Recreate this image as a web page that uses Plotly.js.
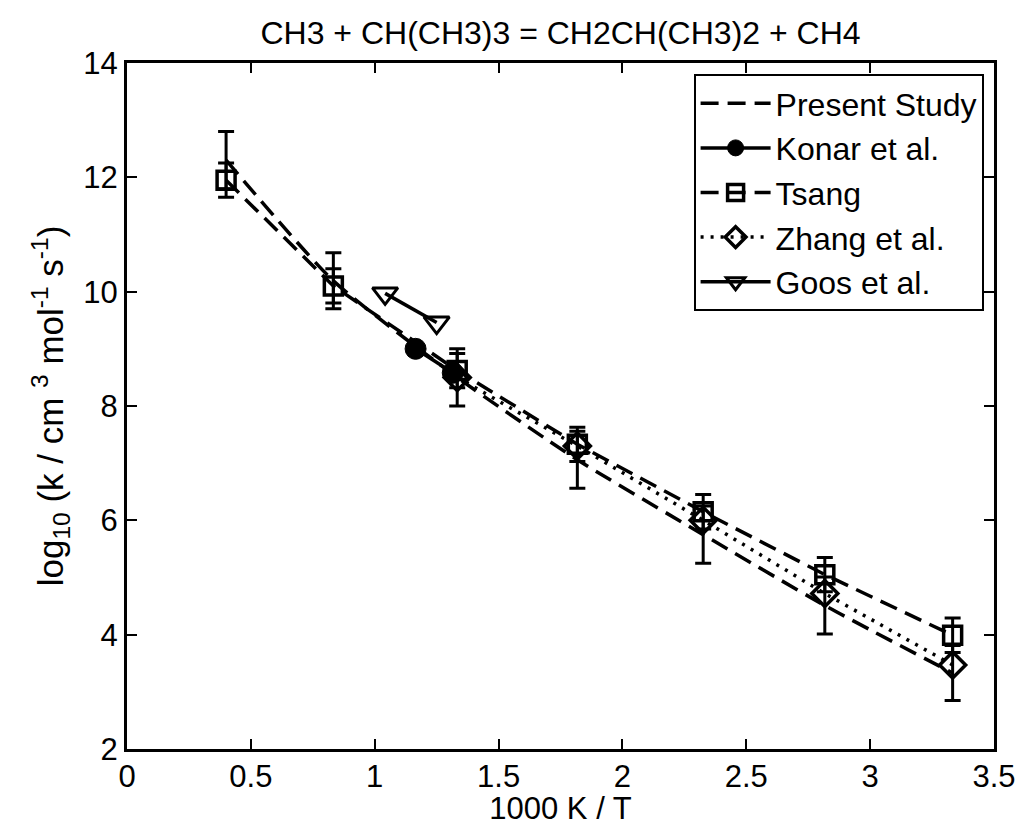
<!DOCTYPE html>
<html>
<head>
<meta charset="utf-8">
<script src="https://cdn.plot.ly/plotly-3.0.1.min.js"></script>
<style>html,body{margin:0;padding:0;background:#fff;}#chart{width:1021px;height:826px;}</style>
</head>
<body>
<div id="chart"></div>
<script>
// ---- data ----
const presentX = [0.4, 0.833, 1.333, 1.818, 2.326, 2.817, 3.333];
const presentY = [12.3, 10.19, 8.5, 7.06, 5.75, 4.51, 3.33];
const presentErr = [0.5, 0.49, 0.5, 0.5, 0.5, 0.5, 0.48];

const konarX = [1.165, 1.315];
const konarY = [9.0, 8.58];

const tsangX = [0.4, 0.833, 1.333, 1.818, 2.326, 2.817, 3.333];
const tsangY = [11.95, 10.1, 8.62, 7.33, 6.15, 5.05, 3.99];
const tsangErr = [0.3, 0.3, 0.3, 0.3, 0.3, 0.3, 0.3];

const zhangX = [1.333, 1.818, 2.326, 2.817, 3.333];
const zhangY = [8.5, 7.3, 6.0, 4.72, 3.47];

const goosX = [1.042, 1.25];
const goosY = [9.97, 9.46];

const xTicks = [0, 0.5, 1, 1.5, 2, 2.5, 3, 3.5];
const xTickText = ['0', '0.5', '1', '1.5', '2', '2.5', '3', '3.5'];
const yTicks = [2, 4, 6, 8, 10, 12, 14];

const titleText = 'CH3 + CH(CH3)3 = CH2CH(CH3)2 + CH4';
const xTitle = '1000 K / T';
const yTitle = 'log<sub>10</sub> (k / cm <sup>3</sup> mol<sup>-1</sup> s<sup>-1</sup>)';

const FONT = 'Liberation Sans, Arial, Helvetica, sans-serif';
const BLACK = '#000000';

const errStyle = (arr) => ({type: 'data', array: arr, visible: true, color: BLACK, thickness: 3, width: 8});

const traces = [
  {
    name: 'Present Study', x: presentX, y: presentY, mode: 'lines',
    line: {color: BLACK, width: 3.5, dash: '18px,9px', shape: 'spline', smoothing: 0.6},
    error_y: errStyle(presentErr)
  },
  {
    name: 'Konar et al.', x: konarX, y: konarY, mode: 'lines+markers',
    line: {color: BLACK, width: 3.5},
    marker: {symbol: 'circle', size: 21, color: BLACK, line: {color: BLACK, width: 1}}
  },
  {
    name: 'Tsang', x: tsangX, y: tsangY, mode: 'lines+markers',
    line: {color: BLACK, width: 3.5, dash: '18px,9px'},
    marker: {symbol: 'square-open', size: 18, color: BLACK, line: {color: BLACK, width: 3.5}},
    error_y: errStyle(tsangErr)
  },
  {
    name: 'Zhang et al.', x: zhangX, y: zhangY, mode: 'lines+markers',
    line: {color: BLACK, width: 3.5, dash: '3px,7px'},
    marker: {symbol: 'diamond-open', size: 20, color: BLACK, line: {color: BLACK, width: 3.5}}
  },
  {
    name: 'Goos et al.', x: goosX, y: goosY, mode: 'lines+markers',
    line: {color: BLACK, width: 3.5},
    marker: {symbol: 'triangle-down-open', size: 22, color: BLACK, line: {color: BLACK, width: 3}}
  }
];

const axisCommon = {
  showgrid: false, zeroline: false, showline: true, linecolor: BLACK, linewidth: 3,
  mirror: 'allticks', ticks: 'inside', ticklen: 10, tickwidth: 2, tickcolor: BLACK,
  tickfont: {family: FONT, size: 31, color: BLACK}
};

const layout = {
  width: 1021, height: 826,
  paper_bgcolor: '#ffffff', plot_bgcolor: '#ffffff',
  margin: {l: 127, r: 27, t: 63, b: 77},
  font: {family: FONT, size: 32, color: BLACK},
  title: {text: titleText, font: {family: FONT, size: 32, color: BLACK},
          x: 0.5, xref: 'paper', xanchor: 'center', y: 0.96, yref: 'container', yanchor: 'middle'},
  xaxis: Object.assign({}, axisCommon, {
    range: [0, 3.5], tickvals: xTicks, ticktext: xTickText, ticklabelstandoff: -2,
    title: {text: xTitle, font: {family: FONT, size: 31, color: BLACK}, standoff: 6}
  }),
  yaxis: Object.assign({}, axisCommon, {
    range: [2, 14], tickvals: yTicks,
    title: {text: yTitle, font: {family: FONT, size: 35, color: BLACK}, standoff: 10}
  }),
  showlegend: true,
  legend: {
    x: 0.988, y: 0.984, xanchor: 'right', yanchor: 'top',
    bgcolor: '#ffffff', bordercolor: BLACK, borderwidth: 2, itemwidth: 70,
    font: {family: FONT, size: 32, color: BLACK}, tracegroupgap: 0
  }
};

Plotly.newPlot('chart', traces, layout, {displayModeBar: false, staticPlot: true});
</script>
</body>
</html>
